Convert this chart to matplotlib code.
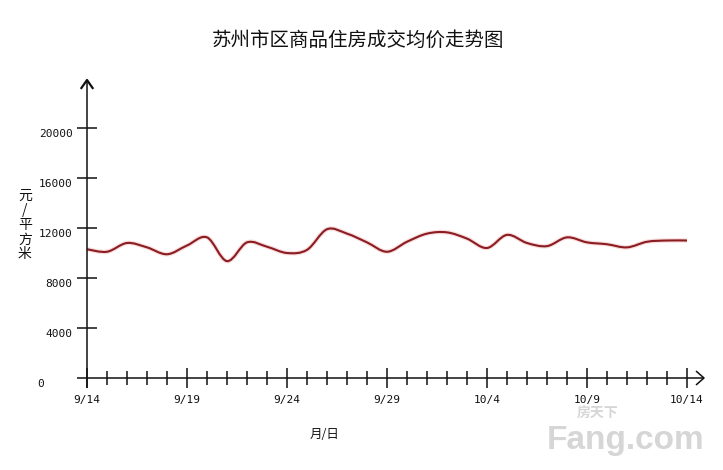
import numpy as np
import matplotlib
matplotlib.use("Agg")
import matplotlib.pyplot as plt
from matplotlib.path import Path
from matplotlib.patches import PathPatch

plt.rcParams['font.family'] = ['Noto Sans CJK SC', 'DejaVu Sans']

# daily average price, 9/14 .. 10/14 (yuan / m2)
prices = [10300, 10100, 10800, 10450, 9900, 10600, 11250, 9350, 10850, 10500,
          10000, 10250, 11900, 11550, 10850, 10100, 10900, 11550, 11650, 11150,
          10400, 11450, 10800, 10550, 11250, 10850, 10700, 10450, 10900, 11000,
          11000]
date_labels = ['9/14', '9/19', '9/24', '9/29', '10/4', '10/9', '10/14']
y_ticks = [4000, 8000, 12000, 16000, 20000]
title = '苏州市区商品住房成交均价走势图'

W, H = 723, 470
fig = plt.figure(figsize=(W / 100, H / 100), dpi=100)
# plot area: day 0 at x=87px, day 30 at x=687px; 0 at y=378px, 20000 at y=128px
ax = fig.add_axes([87 / W, (H - 378) / H, 600 / W, 250 / H])
ax.set_xlim(0, 30)
ax.set_ylim(0, 20000)
ax.axis('off')

ink = '#111111'
kw = dict(color=ink, lw=1.1, clip_on=False, solid_capstyle='butt')

# axes lines with open arrow heads
ax.plot([-0.5, 30.85], [0, 0], **kw)
ax.plot([30.45, 30.85, 30.45], [560, 0, -560], **kw)
ax.plot([0, 0], [-800, 23840], **kw)
ax.plot([-0.28, 0, 0.28], [23200, 23840, 23200], color=ink, lw=1.6, clip_on=False)

# y ticks
for v in y_ticks:
    ax.plot([-0.5, 0.5], [v, v], **kw)
    ax.text(-0.72, v - 450, str(v), ha='right', va='center', fontsize=8,
            family='DejaVu Sans Mono', color=ink)
ax.text(-2.3, -450, '0', ha='center', va='center', fontsize=8,
        family='DejaVu Sans Mono', color=ink)

# x ticks
n = len(prices)
for i in range(n):
    h = 800 if i % 5 == 0 else 560
    ax.plot([i, i], [-h, h], **kw)
for k, lab in enumerate(date_labels):
    ax.text(k * 5, -1750, lab, ha='center', va='center', fontsize=8,
            family='DejaVu Sans Mono', color=ink)

# smooth price line (Catmull-Rom as cubic bezier)
x = np.arange(n, dtype=float)
y = np.array(prices, dtype=float)
pts = np.column_stack([x, y])
verts = [pts[0]]
codes = [Path.MOVETO]
for i in range(n - 1):
    p0 = pts[i - 1] if i > 0 else pts[i]
    p1 = pts[i]
    p2 = pts[i + 1]
    p3 = pts[i + 2] if i + 2 < n else pts[i + 1]
    c1 = p1 + (p2 - p0) / 6
    c2 = p2 - (p3 - p1) / 6
    verts += [c1, c2, p2]
    codes += [Path.CURVE4] * 3
ax.add_patch(PathPatch(Path(verts, codes), fill=False, edgecolor='#f8dcdc',
                       lw=3.2, clip_on=False))
ax.add_patch(PathPatch(Path(verts, codes), fill=False, edgecolor='#8a1c22',
                       lw=1.5, clip_on=False))

# labels
fig.text(358 / W, 1 - 40 / H, title, ha='center', va='center', fontsize=14,
         color=ink)
fig.text(25 / W, 1 - 225 / H, '元\n/\n平\n方\n米', ha='center', va='center',
         fontsize=10, linespacing=1.05, color=ink)
fig.text(325 / W, 1 - 434 / H, '月/日', ha='center', va='center', fontsize=9,
         color=ink)

# watermark
fig.text(598 / W, 1 - 414 / H, '房天下', ha='center', va='center', fontsize=10,
         fontweight='bold', color='#d6d6d6')
fig.text(626 / W, 1 - 441 / H, 'Fang.com', ha='center', va='center',
         fontsize=24, fontweight='bold', family='Liberation Sans',
         color='#d6d6d6')

fig.savefig('out.png', dpi=100, facecolor='white')
